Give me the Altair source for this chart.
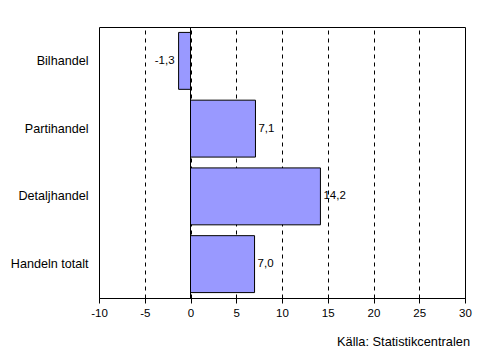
import altair as alt
import pandas as pd

categories = ["Bilhandel", "Partihandel", "Detaljhandel", "Handeln totalt"]
values = [-1.3, 7.1, 14.2, 7.0]
x_ticks = [-10, -5, 0, 5, 10, 15, 20, 25, 30]

df = pd.DataFrame({"cat": categories, "val": values})
df["label"] = [f"{v:.1f}".replace(".", ",") for v in values]

FONT = "Liberation Sans"
W, H = 366, 271

x_enc = alt.X("val:Q", scale=alt.Scale(domain=[-10, 30], nice=False),
              axis=alt.Axis(values=x_ticks, title=None, grid=True, gridDash=[4, 4],
                            gridColor="black", gridWidth=1, gridOpacity=1,
                            domainColor="black", tickColor="black", tickSize=5,
                            labelFont=FONT, labelFontSize=11.5, labelColor="black",
                            labelPadding=4, labelFlush=False, labelOverlap=False,
                            labelExpr="replace(datum.label, '\u2212', '-')"))
y_enc = alt.Y("cat:N", sort=categories,
              scale=alt.Scale(paddingInner=0.16, paddingOuter=0.08),
              axis=alt.Axis(title=None, ticks=False, domain=False,
                            labelFont=FONT, labelFontSize=12.6, labelColor="black",
                            labelPadding=11))

base = alt.Chart(df)

bars = base.mark_bar(color="#9999FF", stroke="black", strokeWidth=1).encode(x=x_enc, y=y_enc)

labels_pos = base.transform_filter("datum.val >= 0").mark_text(
    align="left", dx=3, font=FONT, fontSize=11.5, color="black"
).encode(x="val:Q", y=alt.Y("cat:N", sort=categories), text="label:N")

labels_neg = base.transform_filter("datum.val < 0").mark_text(
    align="right", dx=-4, font=FONT, fontSize=11.5, color="black"
).encode(x="val:Q", y=alt.Y("cat:N", sort=categories), text="label:N")

zero = alt.Chart(pd.DataFrame({"z": [0]})).mark_rule(color="black", strokeWidth=1).encode(x="z:Q")

source = alt.Chart(pd.DataFrame({"t": ["Källa: Statistikcentralen"]})).mark_text(
    align="right", baseline="middle", font=FONT, fontSize=12.8, color="black"
).encode(x=alt.value(W + 5), y=alt.value(H + 44), text="t:N")

chart = alt.layer(bars, zero, labels_pos, labels_neg, source).properties(
    width=W, height=H,
    autosize=alt.AutoSizeParams(type="none"),
    padding={"left": 91, "top": 19, "right": 22, "bottom": 51},
    background="white",
).configure_view(stroke="black", strokeWidth=1)

chart.save("out.html", embed_options={"renderer": "svg", "actions": False})
